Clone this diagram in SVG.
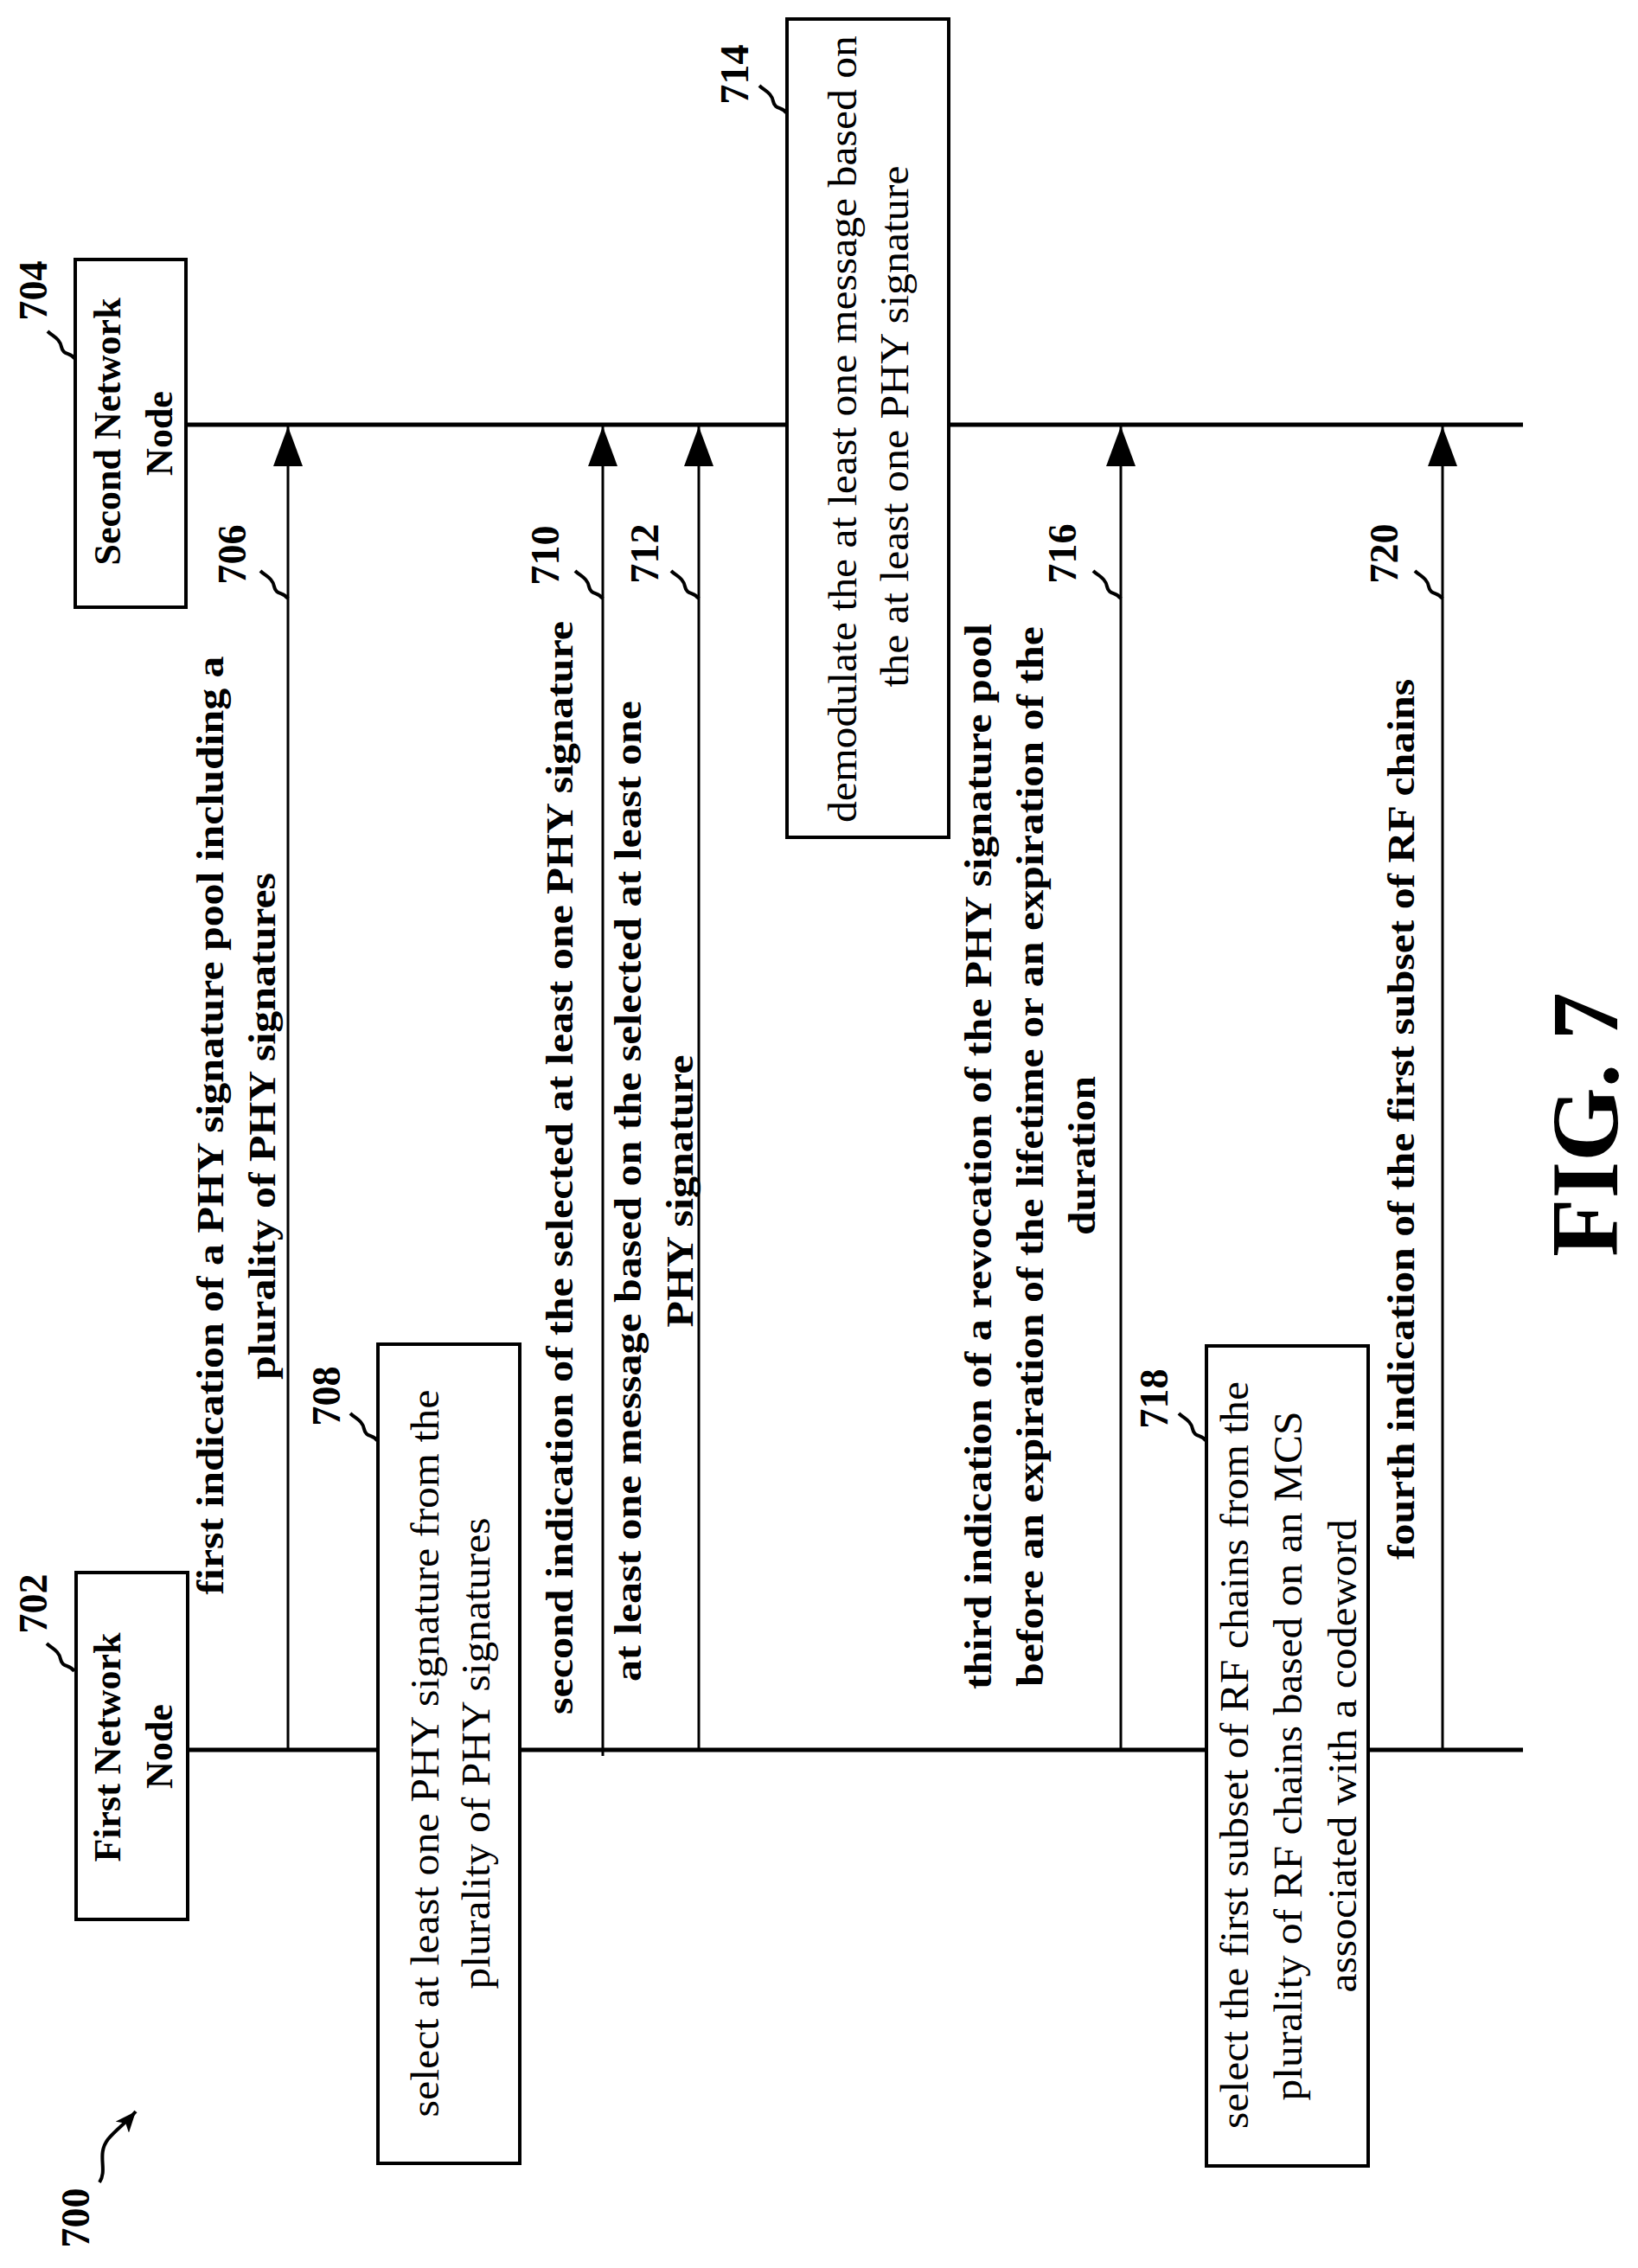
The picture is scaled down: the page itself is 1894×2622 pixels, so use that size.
<svg xmlns="http://www.w3.org/2000/svg" width="1894" height="2622" viewBox="0 0 1894 2622">
<style>
text{font-family:"Liberation Serif","Times New Roman",serif;fill:#000;text-anchor:middle}
.b{font-weight:bold;font-size:44px}
.r{font-size:46px}
.n{font-weight:bold;font-size:46px}
.fig{font-weight:bold;font-size:110px}
.box{fill:#fff;stroke:#000;stroke-width:4}
.life{stroke:#000;stroke-width:5;fill:none}
.arr{stroke:#000;stroke-width:3;fill:none}
.sq{stroke:#000;stroke-width:4;fill:none}
</style>
<defs>
<marker id="ah" viewBox="0 0 24 20" refX="24" refY="10" markerWidth="24" markerHeight="20" orient="auto" markerUnits="userSpaceOnUse">
<path d="M0,0 L24,10 L0,20 L6,10 Z" fill="#000"/>
</marker>
<marker id="ah2" viewBox="0 0 46 34" refX="46" refY="17" markerWidth="46" markerHeight="34" orient="auto" markerUnits="userSpaceOnUse">
<path d="M0,0 L46,17 L0,34 Z" fill="#000"/>
</marker>
</defs>
<rect width="1894" height="2622" fill="#fff"/>

<g id="lifelines">
<line class="life" x1="217" y1="2023" x2="1761" y2="2023"/>
<line class="life" x1="215" y1="491" x2="1761" y2="491"/>
</g>

<g id="connectors">
<line class="arr" x1="333" y1="2023" x2="333" y2="493" marker-end="url(#ah2)"/>
<line class="arr" x1="697" y1="2030" x2="697" y2="493" marker-end="url(#ah2)"/>
<line class="arr" x1="808" y1="2023" x2="808" y2="493" marker-end="url(#ah2)"/>
<line class="arr" x1="1296" y1="2023" x2="1296" y2="493" marker-end="url(#ah2)"/>
<line class="arr" x1="1668" y1="2023" x2="1668" y2="493" marker-end="url(#ah2)"/>
</g>

<g id="node702">
<rect class="box" x="88" y="1818" width="129" height="401"/>
<text class="b" transform="translate(139,2020) rotate(-90)">First Network</text>
<text class="b" transform="translate(199,2019) rotate(-90)">Node</text>
</g>
<g id="node704">
<rect class="box" x="87" y="300" width="128" height="402"/>
<text class="b" transform="translate(139,499) rotate(-90)">Second Network</text>
<text class="b" transform="translate(199,501) rotate(-90)">Node</text>
</g>
<g id="node708">
<rect class="box" x="437" y="1554" width="164" height="947"/>
<text class="r" transform="translate(507,2027) rotate(-90)" textLength="841" lengthAdjust="spacingAndGlyphs">select at least one PHY signature from the</text>
<text class="r" transform="translate(566,2027) rotate(-90)" textLength="545" lengthAdjust="spacingAndGlyphs">plurality of PHY signatures</text>
</g>
<g id="node714">
<rect class="box" x="910" y="22" width="187" height="946"/>
<text class="r" transform="translate(990,496) rotate(-90)" textLength="910" lengthAdjust="spacingAndGlyphs">demodulate the at least one message based on</text>
<text class="r" transform="translate(1050,493) rotate(-90)" textLength="603" lengthAdjust="spacingAndGlyphs">the at least one PHY signature</text>
</g>
<g id="node718">
<rect class="box" x="1395" y="1556" width="187" height="948"/>
<text class="r" transform="translate(1443,2029) rotate(-90)" textLength="864" lengthAdjust="spacingAndGlyphs">select the first subset of RF chains from the</text>
<text class="r" transform="translate(1505,2030) rotate(-90)" textLength="797" lengthAdjust="spacingAndGlyphs">plurality of RF chains based on an MCS</text>
<text class="r" transform="translate(1568,2030) rotate(-90)" textLength="547" lengthAdjust="spacingAndGlyphs">associated with a codeword</text>
</g>

<g id="labels">
<text class="b" transform="translate(258,1301) rotate(-90)" textLength="1085" lengthAdjust="spacingAndGlyphs">first indication of a PHY signature pool including a</text>
<text class="b" transform="translate(318,1302) rotate(-90)" textLength="586" lengthAdjust="spacingAndGlyphs">plurality of PHY signatures</text>
<text class="b" transform="translate(662,1350) rotate(-90)" textLength="1264" lengthAdjust="spacingAndGlyphs">second indication of the selected at least one PHY signature</text>
<text class="b" transform="translate(741,1377) rotate(-90)" textLength="1134" lengthAdjust="spacingAndGlyphs">at least one message based on the selected at least one</text>
<text class="b" transform="translate(801,1377) rotate(-90)" textLength="315" lengthAdjust="spacingAndGlyphs">PHY signature</text>
<text class="b" transform="translate(1146,1337) rotate(-90)" textLength="1232" lengthAdjust="spacingAndGlyphs">third indication of a revocation of the PHY signature pool</text>
<text class="b" transform="translate(1206,1337) rotate(-90)" textLength="1226" lengthAdjust="spacingAndGlyphs">before an expiration of the lifetime or an expiration of the</text>
<text class="b" transform="translate(1266,1336) rotate(-90)" textLength="184" lengthAdjust="spacingAndGlyphs">duration</text>
<text class="b" transform="translate(1635,1294) rotate(-90)" textLength="1018" lengthAdjust="spacingAndGlyphs">fourth indication of the first subset of RF chains</text>
<text class="fig" transform="translate(1870,1300) rotate(-90)">FIG. 7</text>
</g>

<g id="refs">
<text class="n" transform="translate(54,1854) rotate(-90)">702</text>
<text class="n" transform="translate(54,336) rotate(-90)">704</text>
<text class="n" transform="translate(284,641) rotate(-90)">706</text>
<text class="n" transform="translate(393,1614) rotate(-90)">708</text>
<text class="n" transform="translate(646,642) rotate(-90)">710</text>
<text class="n" transform="translate(761,640) rotate(-90)">712</text>
<text class="n" transform="translate(865,86) rotate(-90)">714</text>
<text class="n" transform="translate(1244,640) rotate(-90)">716</text>
<text class="n" transform="translate(1350,1617) rotate(-90)">718</text>
<text class="n" transform="translate(1616,640) rotate(-90)">720</text>
<text class="n" transform="translate(103,2564) rotate(-90)">700</text>
<path class="sq" d="M86,1932 c-6,-8 -14,-4 -16,-14 c-2,-10 -10,-12 -16,-18"/>
<path class="sq" d="M87,415 c-6,-8 -14,-4 -16,-14 c-2,-10 -10,-12 -16,-18"/>
<path class="sq" d="M333,692 c-6,-8 -14,-4 -16,-14 c-2,-10 -10,-12 -16,-18"/>
<path class="sq" d="M437,1666 c-6,-8 -14,-4 -16,-14 c-2,-10 -10,-12 -16,-18"/>
<path class="sq" d="M697,692 c-6,-8 -14,-4 -16,-14 c-2,-10 -10,-12 -16,-18"/>
<path class="sq" d="M808,692 c-6,-8 -14,-4 -16,-14 c-2,-10 -10,-12 -16,-18"/>
<path class="sq" d="M910,131 c-6,-8 -14,-4 -16,-14 c-2,-10 -10,-12 -16,-18"/>
<path class="sq" d="M1296,692 c-6,-8 -14,-4 -16,-14 c-2,-10 -10,-12 -16,-18"/>
<path class="sq" d="M1395,1666 c-6,-8 -14,-4 -16,-14 c-2,-10 -10,-12 -16,-18"/>
<path class="sq" d="M1668,692 c-6,-8 -14,-4 -16,-14 c-2,-10 -10,-12 -16,-18"/>
<path class="sq" d="M115,2523 c10,-15 -4,-32 10,-50 c10,-12 20,-18 32,-32" marker-end="url(#ah)"/>
</g>
</svg>
